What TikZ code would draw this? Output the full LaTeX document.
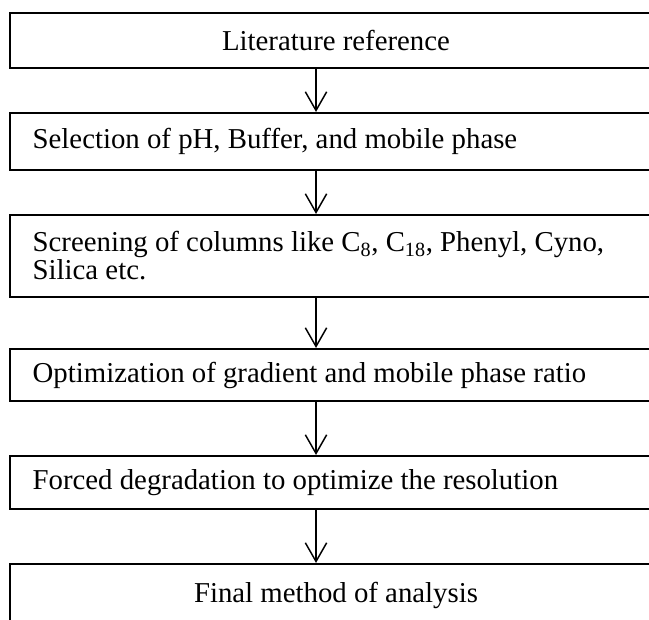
\documentclass[tikz,border=0pt]{standalone}
\usepackage{fontspec}
\setmainfont{Liberation Serif}
\usetikzlibrary{arrows.meta}

\tikzset{
  stage/.style={draw=black, line width=1.6pt, fill=white, minimum width=489pt,
    inner xsep=17pt, inner ysep=0pt, text width=455pt, align=flush left,
    font=\fontsize{21.6pt}{21pt}\selectfont},
  stagec/.style={stage, align=flush center},
  flow/.style={line width=1.1pt, -{Straight Barb[length=14pt,width=16pt,line width=1.1pt]}}
}

\begin{document}
\begin{tikzpicture}[x=0.75pt, y=-0.75pt]
\useasboundingbox (0,0) rectangle (649,620);
\clip (0,0) rectangle (649,620);

% process stages, top to bottom
\node[stagec, minimum height=41.25pt] (lit) at (336,40.5) {Literature reference};
\node[stage, minimum height=42.75pt] (sel) at (336,141.5) {Selection of pH, Buffer, and mobile phase};
\node[stage, minimum height=61.5pt] (col) at (336,256) {Screening of columns like C\textsubscript{8}, C\textsubscript{18}, Phenyl, Cyno,\\Silica etc.};
\node[stage, minimum height=39pt] (opt) at (336,375) {Optimization of gradient and mobile phase ratio};
\node[stage, minimum height=39.75pt] (deg) at (336,482.5) {Forced degradation to optimize the resolution};
\node[stagec, minimum height=46.5pt] (fin) at (336,595) {Final method of analysis};

% connectors, slightly left of the box centres
\draw[flow] ([xshift=-15pt]lit.south) -- ([xshift=-15pt]sel.north);
\draw[flow] ([xshift=-15pt]sel.south) -- ([xshift=-15pt]col.north);
\draw[flow] ([xshift=-15pt]col.south) -- ([xshift=-15pt]opt.north);
\draw[flow] ([xshift=-15pt]opt.south) -- ([xshift=-15pt]deg.north);
\draw[flow] ([xshift=-15pt]deg.south) -- ([xshift=-15pt]fin.north);
\end{tikzpicture}
\end{document}
